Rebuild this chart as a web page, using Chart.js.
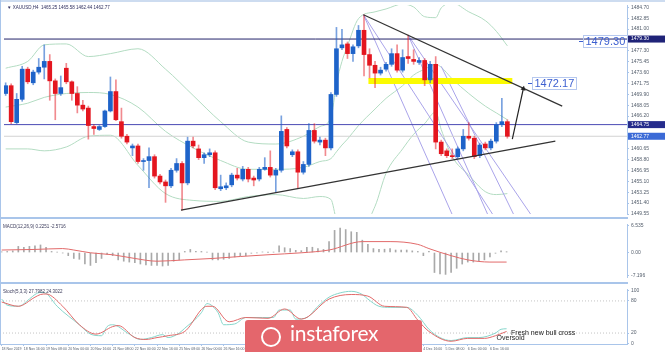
<!DOCTYPE html>
<html>
<head>
<meta charset="utf-8">
<title>XAUUSD H4</title>
<script src="https://cdn.jsdelivr.net/npm/chart.js@4.4.1/dist/chart.umd.min.js"></script>
<style>
  html, body { margin: 0; padding: 0; background: #fff; }
  #wrap { position: relative; width: 665px; height: 352px; overflow: hidden; background: #fff; }
  #wrap canvas { position: absolute; left: 0; }
  .rule { position: absolute; background: #a9c5ea; }
  #badge { position: absolute; left: 245px; top: 320px; width: 177px; height: 36px; background: #e4666c; border-radius: 3px; }
  #badge span { position: absolute; left: 45px; top: 0; line-height: 30px; font: 21px Lato, "Open Sans", sans-serif; color: #fff; letter-spacing: -0.3px; }
  #badge i { position: absolute; left: 16px; top: 7px; width: 16px; height: 16px; border: 2px solid #fff; border-radius: 50%; }
</style>
</head>
<body>
<div id="wrap">
  <canvas id="main" width="665" height="219" style="top:0"></canvas>
  <canvas id="macd" width="665" height="63" style="top:219px"></canvas>
  <canvas id="stoch" width="665" height="68" style="top:284px"></canvas>
  <div class="rule" style="left:0;top:0;width:665px;height:2px;background:#cddcf0"></div>
  <div class="rule" style="left:0;top:0;width:1px;height:344px"></div>
  <div class="rule" style="left:0;top:217px;width:628px;height:2px"></div>
  <div class="rule" style="left:0;top:282px;width:628px;height:2px"></div>
  <div id="badge"><i></i><span>instaforex</span></div>
</div>
<script>
// XAUUSD H4 candles, one per bar
const candleOpen = [
  1470.04,1471.37,1465.09,1469.05,1474.18,1471.86,1473.68,1474.51,1475.50,1472.19,
  1470.04,1474.34,1472.03,1470.04,1468.06,1467.56,1464.42,1463.93,1464.42,1467.07,
  1470.37,1465.25,1462.77,1460.79,1461.12,1458.47,1458.64,1459.30,1456.00,1455.00,
  1454.34,1456.99,1458.14,1454.84,1461.94,1460.62,1459.13,1459.63,1459.96,1453.85,
  1454.01,1454.51,1456.16,1455.50,1457.15,1455.66,1455.50,1457.15,1457.48,1456.16,
  1456.99,1463.93,1459.63,1460.13,1456.66,1457.98,1463.76,1461.78,1462.11,1460.79,
  1469.88,1477.81,1478.47,1476.82,1478.14,1480.79,1476.66,1474.84,1473.51,1474.18,
  1475.00,1476.82,1474.01,1476.32,1475.83,1475.33,1475.66,1472.36,1475.00,1461.78,
  1460.29,1459.47,1459.30,1460.62,1462.77,1462.44,1459.47,1461.45,1460.79,1461.94,
  1464.75,1465.25];
const candleClose = [
  1471.37,1465.25,1469.05,1474.18,1472.03,1473.68,1474.51,1475.50,1472.19,1470.04,
  1471.04,1472.03,1470.04,1468.06,1467.40,1464.59,1464.09,1464.42,1467.07,1470.37,
  1465.58,1462.77,1461.78,1461.12,1458.47,1458.64,1459.30,1456.00,1455.00,1454.34,
  1456.99,1458.14,1454.84,1461.94,1461.12,1459.13,1459.63,1459.96,1454.01,1454.18,
  1454.34,1456.16,1455.66,1457.15,1455.50,1455.33,1457.15,1457.48,1456.16,1456.99,
  1463.60,1461.12,1460.13,1456.66,1457.98,1463.76,1461.94,1462.11,1460.79,1469.88,
  1477.65,1478.31,1476.82,1477.98,1480.79,1476.66,1474.84,1473.51,1474.01,1475.00,
  1476.82,1474.01,1476.16,1475.99,1475.50,1475.66,1472.36,1475.00,1461.78,1459.80,
  1459.47,1459.30,1460.62,1462.77,1462.44,1459.30,1461.28,1460.79,1461.94,1464.75,
  1465.25,1462.77];
const candleHigh = [
  1471.86,1471.70,1470.04,1474.67,1474.51,1474.01,1475.99,1478.31,1476.66,1472.52,
  1473.02,1475.17,1472.19,1471.20,1468.89,1467.90,1464.75,1464.59,1467.23,1472.85,
  1472.36,1467.56,1463.10,1461.45,1461.45,1458.97,1460.79,1459.63,1456.30,1455.33,
  1457.32,1458.97,1458.47,1462.61,1462.61,1461.28,1459.96,1460.62,1460.29,1456.16,
  1454.84,1456.49,1457.32,1457.65,1457.48,1456.00,1457.48,1459.13,1460.29,1457.32,
  1466.24,1464.26,1460.46,1460.46,1458.47,1464.92,1464.92,1462.61,1462.44,1470.21,
  1481.28,1480.95,1478.80,1478.31,1481.61,1483.43,1477.65,1475.50,1474.51,1475.33,
  1477.65,1478.31,1477.48,1479.96,1477.48,1476.16,1475.99,1475.50,1476.32,1462.11,
  1460.62,1460.62,1460.95,1463.93,1465.09,1462.77,1461.61,1461.78,1462.28,1465.09,
  1469.22,1465.58];
const candleLow = [
  1469.71,1464.92,1464.92,1468.72,1471.70,1471.53,1473.35,1472.52,1468.89,1465.58,
  1469.71,1471.70,1468.89,1466.74,1467.07,1462.28,1463.10,1463.76,1464.26,1466.90,
  1465.41,1462.44,1461.45,1459.47,1458.14,1456.99,1454.01,1455.66,1454.67,1451.53,
  1454.01,1456.66,1450.21,1454.51,1460.79,1458.80,1458.14,1459.30,1453.68,1453.52,
  1453.68,1454.18,1455.33,1455.17,1455.00,1454.34,1455.17,1456.99,1455.83,1453.18,
  1456.66,1460.79,1459.30,1453.85,1456.33,1457.65,1461.61,1461.28,1459.47,1460.46,
  1469.55,1477.48,1475.99,1475.50,1477.81,1473.02,1472.69,1471.04,1473.18,1473.85,
  1474.67,1473.68,1473.68,1475.17,1475.00,1475.00,1471.37,1471.86,1460.62,1459.47,
  1459.13,1458.97,1458.97,1460.29,1462.11,1458.97,1459.13,1460.46,1460.46,1461.61,
  1464.42,1462.44];

// Bollinger bands, read at a few bars
const bbIdx = [0,4,7,11,15,19,24,29,34,39,44,49,54,57,59,60,61,62,64,67,69,72,74,76,78,79,81,84,87,89,91];
const bbUpper = [1474.34,1475.50,1478.31,1478.47,1476.32,1476.82,1477.65,1474.18,1469.71,1465.25,1461.78,1461.45,1462.77,1464.42,1465.91,1471.70,1475.50,1478.14,1482.77,1483.93,1484.42,1485.25,1484.75,1483.10,1482.94,1484.59,1485.42,1483.93,1482.44,1480.62,1478.14];
const bbMiddle = [1467.73,1468.39,1469.38,1470.04,1470.21,1469.88,1467.73,1463.60,1460.79,1458.64,1457.15,1457.15,1457.48,1458.47,1458.97,1460.13,1461.28,1462.28,1464.59,1467.40,1469.22,1471.37,1473.18,1474.18,1475.00,1474.51,1472.52,1470.04,1467.89,1466.74,1465.58];
const bbLower = [1460.62,1460.62,1460.29,1460.95,1462.77,1462.94,1457.81,1453.02,1451.86,1451.70,1452.52,1452.85,1452.19,1452.52,1452.03,1448.56,1447.07,1446.41,1446.41,1450.87,1456.49,1460.62,1463.10,1464.92,1466.90,1463.93,1459.30,1456.16,1453.35,1452.85,1453.02];

// MACD histogram (one per bar) and signal line
const macdMain = [
  0.2,0.3,0.45,1.66,1.43,1.66,1.82,2.05,1.43,0.3,
  0.1,-0.1,-0.84,-1.6,-1.82,-3.1,-3.48,-2.73,-1.6,-0.5,
  -0.84,-1.98,-2.34,-2.57,-2.73,-3.1,-3.34,-3.48,-3.48,-3.64,
  -3.48,-2.34,-1.98,0.3,0.84,0.3,0.3,0.07,-1.98,-1.98,
  -1.82,-1.6,-1.2,-0.84,-0.84,-0.2,-0.1,0.16,0.05,0.1,
  1.82,1.3,1.07,0.6,0.5,1.43,1.43,1.07,0.84,2.95,
  5.98,6.59,6.2,5.61,5.45,3.34,2.2,1.07,0.84,0.9,
  1.07,0.68,0.68,0.68,0.45,0.3,-0.84,0.3,-5.39,-5.75,
  -5.9,-5.39,-4.25,-3.11,-2.57,-2.57,-2.34,-1.98,-1.2,-0.2,
  0.45,0.23];
const macdSignalIdx = [0,6,11,13,16,20,24,28,33,38,43,48,54,59,65,70,75,77,81,84,88,91];
const macdSignal = [0.68,0.84,1.07,0.68,-0.07,-0.6,-1.6,-2.34,-1.98,-1.6,-1.07,-0.6,-0.07,0.68,2.95,2.95,2.2,1.07,-0.84,-1.98,-2.57,-2.57];

// Stochastic %K and %D
const stochKIdx = [0,1,3,5,6,7,8,10,14,16,18,19,20,23,25,27,29,30,32,33,36,37,39,40,42,44,47,49,50,52,53,55,57,59,61,63,65,66,68,70,73,75,77,79,81,84,86,89,90,91];
const stochK = [83.5,72,70,83.5,92,96,94,70,35.5,18,15,32,35.5,18,8,11.5,17,11.5,20,29,58,75,58,35.5,37,49,49,49,63,63,46,49,70,87,95,98,92,83.5,70,68,68,53,27,11.5,6,11.5,11.5,20,27,28];
const stochDIdx = [0,3,6,7,8,11,14,17,20,21,24,26,28,30,33,37,38,41,44,48,51,54,59,63,66,69,73,75,77,81,84,87,89,91];
const stochD = [78,70,87,92,93,70,35.5,18,32,34,11.5,8,11.5,15,23,70,70,41,49,47.5,65,46,83.5,92,89,70,68,44,23,4.6,10,10,15,23];
const stochLevels = [80, 20];

// axis labels
const priceTicks = [1449.55,1451.40,1453.25,1455.10,1456.95,1458.80,1460.65,1466.20,1468.05,1469.90,1471.75,1473.60,1475.45,1477.30,1481.00,1482.85,1484.70];
const markedPrices = [1479.30, 1464.75, 1462.77];
const macdAxisTicks = [7.25, 0, -6.16];
const macdAxisLabels = ['6.535', '0.00', '-7.196'];
const stochAxisTicks = [100, 80, 20, 0];
const timeTickIdx = [0,4,8,12,16,20,24,28,32,36,40,44,48,52,56,60,64,68,72,76,80,84,88];
const timeLabels = ['18 Nov 2019','18 Nov 16:00','19 Nov 08:00','20 Nov 00:00','20 Nov 16:00','21 Nov 08:00','22 Nov 00:00','22 Nov 16:00','25 Nov 08:00','26 Nov 00:00','26 Nov 16:00','27 Nov 08:00','28 Nov 00:00','28 Nov 16:00','29 Nov 08:00','2 Dec 00:00','2 Dec 16:00','3 Dec 08:00','4 Dec 00:00','4 Dec 16:00','5 Dec 08:00','6 Dec 00:00','6 Dec 16:00'];

// drawn objects: [bar index, price]
const resistanceZone = { from: 65.8, to: 91.9, price: 1472.17 };
const trendUp = [[31.8, 1450.21], [99.7, 1461.94]];
const trendDown = [[64.9, 1483.43], [100.95, 1467.90]];
const fanLines = [
  [[64.9, 1483.43], [80.95, 1449.55]],
  [[73.0, 1479.96], [87.4, 1449.55]],
  [[79.0, 1474.67], [92.1, 1449.55]],
  [[64.9, 1483.43], [88.3, 1449.55]],
  [[73.0, 1479.96], [95.2, 1449.55]]
];
const arrowLine = [[91.9, 1462.28], [93.9, 1470.87]];

const headerText = '\u25BC XAUUSD,H4  1465.25 1465.58 1462.44 1462.77';
const macdTitle = 'MACD(12,26,9) 0.2251 -2.5716';
const stochTitle = 'Stoch(5,3,3) 27.7982 24.3022';
const priceNotes = [
  { text: '1479.30', x: 104.7, y: 1478.97 },
  { text: '1472.17', x: 95.4, y: 1471.78 }
];
const stochNotes = [
  { text: 'Fresh new bull cross', x: 91.8, y: 16.6 },
  { text: 'Oversold', x: 89.2, y: 7.2 }
];

// ---- helpers ----
Chart.defaults.font.family = 'Arial, "Liberation Sans", sans-serif';
Chart.defaults.animation = false;

const X_MIN = -0.3, X_MAX = 112.7;
const AXIS = '#a9c5ea';
const pts = (xs, ys) => xs.map((x, i) => ({ x, y: ys[i] }));
const seg = p => p.map(([x, y]) => ({ x, y }));
const bars = candleOpen.map((_, i) => i);
const rising = bars.map(i => candleClose[i] >= candleOpen[i]);

function line(data, color, width, order, extra) {
  return Object.assign({ type: 'line', data, borderColor: color, borderWidth: width,
    pointRadius: 0, fill: false, order }, extra || {});
}

function hiddenX() {
  return { type: 'linear', min: X_MIN, max: X_MAX, offset: false, display: false };
}

function rightAxis(min, max, ticks, fmt) {
  return {
    position: 'right', min, max,
    afterFit(s) { s.width = 38; },
    afterBuildTicks(s) { s.ticks = ticks.map(v => ({ value: v })); },
    ticks: { autoSkip: false, font: { size: 5 }, color: '#56606e', padding: 2, callback: fmt },
    grid: { drawOnChartArea: false, tickLength: 2, color: AXIS },
    border: { color: AXIS }
  };
}

function title(text, color) {
  return {
    id: 'title',
    afterDraw(chart) {
      const { ctx, chartArea: a } = chart;
      ctx.save();
      ctx.font = '4.5px Arial';
      ctx.fillStyle = color;
      ctx.textBaseline = 'middle';
      ctx.fillText(text, a.left + 3, a.top + 3);
      ctx.restore();
    }
  };
}

const plain = { legend: { display: false }, tooltip: { enabled: false } };

// ---- main price panel ----
const mainDatasets = [
  line(pts(bbIdx, bbUpper), '#b3dcc2', 1, 30, { cubicInterpolationMode: 'monotone' }),
  line(pts(bbIdx, bbMiddle), '#b3dcc2', 1, 30, { cubicInterpolationMode: 'monotone' }),
  line(pts(bbIdx, bbLower), '#b3dcc2', 1, 30, { cubicInterpolationMode: 'monotone' }),
  ...fanLines.map(f => line(seg(f), '#aaa4ea', 1, 25)),
  line([{ x: X_MIN, y: markedPrices[0] }, { x: X_MAX, y: markedPrices[0] }], '#23236a', 1, 20),
  line([{ x: X_MIN, y: markedPrices[1] }, { x: X_MAX, y: markedPrices[1] }], '#4a4ab4', 1, 20),
  line([{ x: X_MIN, y: markedPrices[2] }, { x: X_MAX, y: markedPrices[2] }], '#d2d2d2', 1, 20),
  line([{ x: resistanceZone.from, y: resistanceZone.price }, { x: resistanceZone.to, y: resistanceZone.price }],
    '#fbfb00', 6, 15, { borderCapStyle: 'butt' }),
  {
    type: 'bar', order: 5, grouped: false, barThickness: 1,
    data: bars.map(i => ({ x: i, y: [candleLow[i], candleHigh[i]] })),
    backgroundColor: bars.map(i => rising[i] ? 'rgba(30,99,201,0.6)' : 'rgba(228,22,31,0.5)')
  },
  {
    type: 'bar', order: 4, grouped: false, barThickness: 4, minBarLength: 1,
    data: bars.map(i => ({ x: i, y: [candleOpen[i], candleClose[i]] })),
    backgroundColor: bars.map(i => rising[i] ? '#1e63c9' : '#e4161f')
  },
  line(seg(trendUp), '#333333', 1.2, 2),
  line(seg(trendDown), '#333333', 1.2, 2),
  line(seg(arrowLine), '#222222', 1.2, 1, {
    pointRadius: [0, 3], pointStyle: 'triangle', pointRotation: 12,
    pointBackgroundColor: '#222222', pointBorderWidth: 0
  })
];

const mainExtras = {
  id: 'mainExtras',
  afterDraw(chart) {
    const { ctx, chartArea: a, scales: { x, y } } = chart;
    ctx.save();
    ctx.font = '11px Arial';
    ctx.textBaseline = 'middle';
    ctx.textAlign = 'left';
    priceNotes.forEach(n => {
      const px = Math.round(x.getPixelForValue(n.x)), py = Math.round(y.getPixelForValue(n.y));
      const w = Math.ceil(ctx.measureText(n.text).width) + 4;
      ctx.strokeStyle = '#3c5fd0';
      ctx.lineWidth = 1;
      ctx.beginPath(); ctx.moveTo(px - 4, py + 0.5); ctx.lineTo(px, py + 0.5); ctx.stroke();
      ctx.strokeStyle = '#b6c8ef';
      ctx.strokeRect(px + 0.5, py - 5.5, w, 12);
      ctx.fillStyle = '#3c5fd0';
      ctx.fillText(n.text, px + 2.5, py + 1);
    });
    const markColors = ['#1f2378', '#262c8c', '#3b6ad6'];
    ctx.font = '5px Arial';
    markedPrices.forEach((p, i) => {
      const py = y.getPixelForValue(p);
      ctx.fillStyle = markColors[i];
      ctx.fillRect(a.right + 1, py - 3.5, 38, 7);
      ctx.fillStyle = '#fff';
      ctx.fillText(p.toFixed(2), a.right + 4, py);
    });
    ctx.restore();
  }
};

new Chart(document.getElementById('main'), {
  type: 'line',
  data: { datasets: mainDatasets },
  options: {
    responsive: false,
    devicePixelRatio: 1,
    layout: { padding: { top: 2, bottom: 2, left: 0, right: 0 } },
    plugins: plain,
    scales: {
      x: hiddenX(),
      y: rightAxis(1449.55, 1485.09, priceTicks, v => v.toFixed(2))
    }
  },
  plugins: [mainExtras, title(headerText, '#2e2e5e')]
});

// ---- MACD panel ----
new Chart(document.getElementById('macd'), {
  type: 'line',
  data: {
    datasets: [
      line(pts(macdSignalIdx, macdSignal), '#e26a6a', 1, 1, { cubicInterpolationMode: 'monotone' }),
      {
        type: 'bar', order: 2, grouped: false, barThickness: 1,
        data: bars.map(i => ({ x: i, y: macdMain[i] })),
        backgroundColor: '#a9a9a9'
      }
    ]
  },
  options: {
    responsive: false,
    devicePixelRatio: 1,
    layout: { padding: 0 },
    plugins: plain,
    scales: {
      x: hiddenX(),
      y: rightAxis(-6.6, 7.7, macdAxisTicks, (v, i) => macdAxisLabels[i])
    }
  },
  plugins: [title(macdTitle, '#3a3a5a')]
});

// ---- Stochastic panel ----
const stochExtras = {
  id: 'stochExtras',
  afterDatasetsDraw(chart) {
    const { ctx, scales: { x, y } } = chart;
    ctx.save();
    ctx.font = '7px Arial';
    ctx.fillStyle = '#222';
    ctx.textBaseline = 'alphabetic';
    stochNotes.forEach(n => ctx.fillText(n.text, x.getPixelForValue(n.x), y.getPixelForValue(n.y)));
    ctx.restore();
  }
};

new Chart(document.getElementById('stoch'), {
  type: 'line',
  data: {
    datasets: [
      ...stochLevels.map(l => line([{ x: X_MIN, y: l }, { x: X_MAX, y: l }], '#c4c4c4', 1, 5, { borderDash: [1, 2] })),
      line(pts(stochKIdx, stochK), '#86d6cb', 1, 2, { cubicInterpolationMode: 'monotone' }),
      line(pts(stochDIdx, stochD), '#e26a6a', 1, 1, { cubicInterpolationMode: 'monotone' })
    ]
  },
  options: {
    responsive: false,
    devicePixelRatio: 1,
    layout: { padding: 0 },
    plugins: plain,
    scales: {
      x: {
        type: 'linear', min: X_MIN, max: X_MAX, offset: false,
        afterFit(s) { s.height = 8; },
        afterBuildTicks(s) { s.ticks = timeTickIdx.map(v => ({ value: v })); },
        ticks: { autoSkip: false, maxRotation: 0, align: 'start', font: { size: 3.5 }, color: '#56606e', padding: 1,
          callback: (v, i) => timeLabels[i] },
        grid: { drawOnChartArea: false, tickLength: 2, color: AXIS },
        border: { color: AXIS }
      },
      y: rightAxis(-0.5, 102.3, stochAxisTicks, v => String(v))
    }
  },
  plugins: [stochExtras, title(stochTitle, '#3a3a5a')]
});
</script>
</body>
</html>
